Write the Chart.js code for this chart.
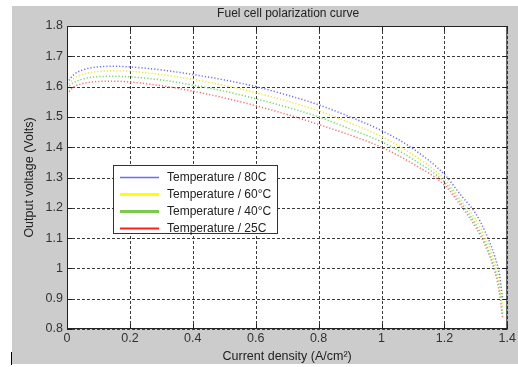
<!DOCTYPE html>
<html>
<head>
<meta charset="utf-8">
<script src="https://cdn.jsdelivr.net/npm/chart.js@4/dist/chart.umd.min.js"></script>
<style>
  html, body { margin: 0; padding: 0; background: #ffffff; }
  #fig { position: absolute; left: 12px; top: 6px; width: 506px; height: 358px; background: #cccccc; }
  #mark { position: absolute; left: 11px; top: 352px; width: 1px; height: 13px; background: #000; }
</style>
</head>
<body>
<div id="fig"><canvas id="polarization"></canvas></div>
<div id="mark"></div>
<script>
;
(function(window, document) {
    'use strict';

    // current density (A/cm2), shared by all four curves
    const currentDensity = [0, 0.02, 0.05, 0.1, 0.15, 0.2, 0.3, 0.4, 0.5, 0.6, 0.7, 0.8,
        0.9, 1.0, 1.1, 1.2, 1.25, 1.3, 1.33, 1.36, 1.375, 1.385];

    // output voltage (Volts) per temperature
    const volts80 = [1.612, 1.638, 1.655, 1.665, 1.667, 1.665, 1.655, 1.640, 1.622, 1.600, 1.572, 1.540,
        1.500, 1.455, 1.395, 1.310, 1.245, 1.180, 1.120, 1.040, 0.980, 0.900];
    const volts60 = [1.600, 1.625, 1.640, 1.650, 1.652, 1.650, 1.640, 1.624, 1.604, 1.580, 1.552, 1.520,
        1.480, 1.435, 1.375, 1.295, 1.230, 1.160, 1.100, 1.020, 0.950, 0.870];
    const volts40 = [1.595, 1.612, 1.625, 1.633, 1.634, 1.632, 1.622, 1.605, 1.585, 1.560, 1.532, 1.500,
        1.460, 1.418, 1.360, 1.285, 1.220, 1.145, 1.085, 1.000, 0.930, 0.850];
    const volts25 = [1.575, 1.598, 1.610, 1.617, 1.618, 1.615, 1.603, 1.585, 1.563, 1.537, 1.508, 1.475,
        1.440, 1.400, 1.345, 1.275, 1.210, 1.135, 1.075, 0.990, 0.920, 0.835];

    const seriesLabels = ['Temperature / 80C', 'Temperature / 60°C', 'Temperature / 40°C', 'Temperature / 25C'];
    const seriesValues = [volts80, volts60, volts40, volts25];
    const dotColors = ['rgb(110,110,255)', 'rgb(235,235,40)', 'rgb(110,220,100)', 'rgb(255,110,110)'];
    const keyColors = ['#6a6aff', '#ffff00', '#7ec850', '#ff2020'];
    const keyWidths = [1.5, 3, 3, 2];

    const fontName = '"Liberation Sans", Arial, sans-serif';

    let toPoints = function(values) {
        return values.map(function(v, i) {
            return { x: currentDensity[i], y: v };
        });
    };

    let tickText = function(value) {
        return String(+Number(value).toFixed(1));
    };

    // white plot area, dashed grid, box, inward ticks, title
    let framePlugin = {
        id: 'frame',
        beforeDatasetsDraw: function(chart) {
            let a = chart.chartArea;
            let ctx = chart.ctx;
            ctx.save();
            ctx.fillStyle = '#ffffff';
            ctx.fillRect(a.left, a.top, a.right - a.left, a.bottom - a.top);

            ctx.strokeStyle = '#3a3a3a';
            ctx.lineWidth = 1;
            ctx.setLineDash([3, 2]);
            ctx.beginPath();
            chart.scales.x.ticks.forEach(function(t) {
                let px = Math.round(chart.scales.x.getPixelForValue(t.value)) + 0.5;
                ctx.moveTo(px, a.bottom);
                ctx.lineTo(px, a.top);
            });
            chart.scales.y.ticks.forEach(function(t) {
                let py = Math.round(chart.scales.y.getPixelForValue(t.value)) + 0.5;
                ctx.moveTo(a.left, py);
                ctx.lineTo(a.right, py);
            });
            ctx.stroke();
            ctx.restore();
        },
        afterDraw: function(chart) {
            let a = chart.chartArea;
            let ctx = chart.ctx;
            ctx.save();
            ctx.strokeStyle = '#222';
            ctx.lineWidth = 1;
            ctx.strokeRect(a.left + 0.5, a.top + 0.5, a.right - a.left - 1, a.bottom - a.top - 1);

            ctx.beginPath();
            chart.scales.x.ticks.forEach(function(t) {
                let px = Math.round(chart.scales.x.getPixelForValue(t.value)) + 0.5;
                ctx.moveTo(px, a.bottom);
                ctx.lineTo(px, a.bottom - 5);
                ctx.moveTo(px, a.top);
                ctx.lineTo(px, a.top + 5);
            });
            chart.scales.y.ticks.forEach(function(t) {
                let py = Math.round(chart.scales.y.getPixelForValue(t.value)) + 0.5;
                ctx.moveTo(a.left, py);
                ctx.lineTo(a.left + 5, py);
                ctx.moveTo(a.right, py);
                ctx.lineTo(a.right - 5, py);
            });
            ctx.stroke();

            ctx.fillStyle = '#222';
            ctx.font = '12px ' + fontName;
            ctx.textAlign = 'center';
            ctx.textBaseline = 'middle';
            ctx.fillText('Fuel cell polarization curve', (a.left + a.right) / 2 + 1, 8);
            ctx.restore();
        }
    };

    // boxed legend inside the axes, like the original figure
    let keyPlugin = {
        id: 'key',
        afterDatasetsDraw: function(chart) {
            let a = chart.chartArea;
            let ctx = chart.ctx;
            let left = a.left + 46;
            let top = a.top + 139;
            ctx.save();
            ctx.fillStyle = '#ffffff';
            ctx.fillRect(left, top, 164, 68);
            ctx.strokeStyle = '#333';
            ctx.lineWidth = 1;
            ctx.strokeRect(left + 0.5, top + 0.5, 164, 68);
            ctx.font = '12px ' + fontName;
            ctx.textBaseline = 'middle';
            ctx.textAlign = 'left';
            seriesLabels.forEach(function(label, i) {
                let y = top + 12 + i * 17;
                ctx.strokeStyle = keyColors[i];
                ctx.lineWidth = keyWidths[i];
                ctx.beginPath();
                ctx.moveTo(left + 7, y + 0.5);
                ctx.lineTo(left + 46, y + 0.5);
                ctx.stroke();
                ctx.fillStyle = '#222';
                ctx.fillText(label, left + 54, y + 1);
            });
            ctx.restore();
        }
    };

    let datasets = seriesValues.map(function(values, i) {
        return {
            label: seriesLabels[i],
            data: toPoints(values),
            showLine: true,
            borderColor: dotColors[i],
            backgroundColor: dotColors[i],
            borderWidth: 1.5,
            borderDash: [1.2, 2],
            pointRadius: 0,
            cubicInterpolationMode: 'monotone'
        };
    });

    let canvas = document.getElementById('polarization');
    let chart = new Chart(canvas, {
        type: 'scatter',
        data: { datasets: datasets },
        plugins: [framePlugin, keyPlugin],
        options: {
            responsive: true,
            maintainAspectRatio: false,
            animation: false,
            layout: { padding: { top: 20, right: 9, left: 0, bottom: 0 } },
            plugins: {
                legend: { display: false },
                tooltip: { enabled: false }
            },
            scales: {
                x: {
                    type: 'linear',
                    min: 0,
                    max: 1.4,
                    grid: { display: false, drawTicks: false },
                    border: { display: false },
                    ticks: {
                        stepSize: 0.2,
                        padding: 2,
                        color: '#333',
                        font: { family: fontName, size: 12.5 },
                        maxRotation: 0,
                        callback: tickText
                    },
                    title: {
                        display: true,
                        text: 'Current density (A/cm²)',
                        color: '#222',
                        font: { family: fontName, size: 12.5 },
                        padding: { top: 0, bottom: 0 }
                    },
                    afterFit: function(scale) { scale.height = 35; }
                },
                y: {
                    type: 'linear',
                    min: 0.8,
                    max: 1.8,
                    grid: { display: false, drawTicks: false },
                    border: { display: false },
                    ticks: {
                        stepSize: 0.1,
                        padding: 4,
                        color: '#333',
                        font: { family: fontName, size: 12.5 },
                        callback: tickText
                    },
                    title: {
                        display: true,
                        text: 'Output voltage (Volts)',
                        color: '#222',
                        font: { family: fontName, size: 12.5 },
                        padding: { top: 10, bottom: 0 }
                    },
                    afterFit: function(scale) { scale.width = 55; }
                }
            }
        }
    });

    window.polarizationChart = chart;

})(window, document);
</script>
</body>
</html>
